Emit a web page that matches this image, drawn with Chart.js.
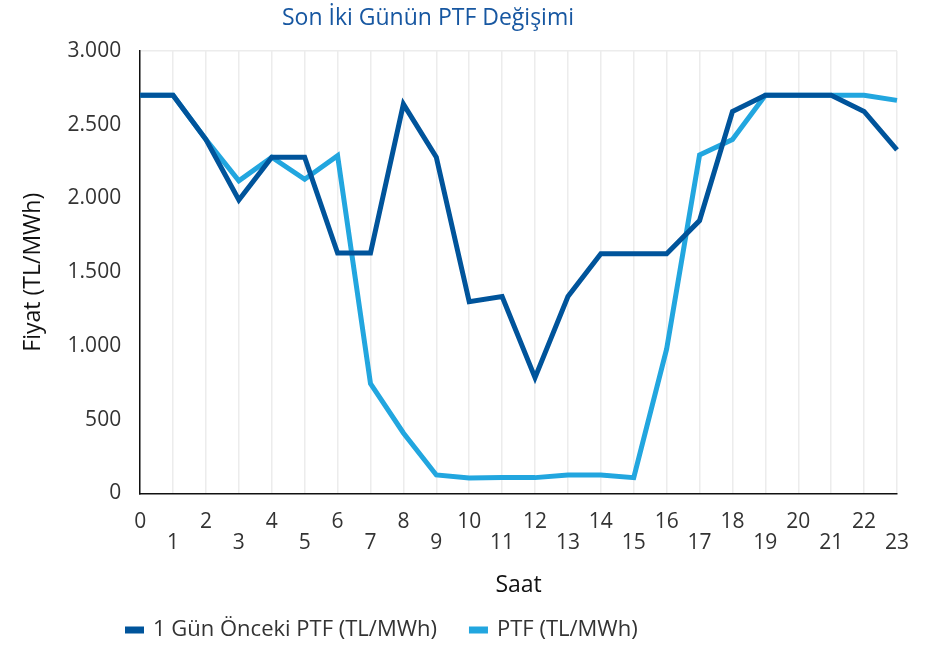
<!DOCTYPE html>
<html>
<head>
    <title>Son İki Günün PTF Değişimi</title>
    <style>
        body {
            margin: 0;
            background-color: white;
        }

        #chart-box {
            width: 938px;
            height: 646px;
        }
    </style>
    <script src="https://cdn.jsdelivr.net/npm/chart.js"></script>
</head>
<body>

    <div id="chart-box">
        <canvas id="ptf-chart"></canvas>
    </div>

    <script>
        // Hours 0..23
        const hours = ['0', '1', '2', '3', '4', '5', '6', '7', '8', '9', '10', '11',
                       '12', '13', '14', '15', '16', '17', '18', '19', '20', '21', '22', '23'];

        // Previous day PTF (TL/MWh)
        const prevDayPtf = [2700, 2700, 2400, 1990, 2280, 2280, 1630, 1630, 2640, 2280, 1300, 1335,
                            785, 1335, 1625, 1625, 1625, 1850, 2590, 2700, 2700, 2700, 2590, 2330];

        // Today PTF (TL/MWh)
        const todayPtf = [2700, 2700, 2400, 2120, 2280, 2130, 2290, 745, 410, 125, 105, 107,
                          107, 125, 125, 107, 980, 2295, 2400, 2700, 2700, 2700, 2700, 2665];

        const seriesNames = ['1 Gün Önceki PTF (TL/MWh)', 'PTF (TL/MWh)'];
        const seriesColors = ['#00549b', '#22a6df'];

        const chartTitle = 'Son İki Günün PTF Değişimi';
        const fontName = "'Open Sans', 'Noto Sans', sans-serif";

        // Odd hours go on a second row, like the original chart
        const hourLabels = hours.map((h, i) => i % 2 === 0 ? h : ['', h]);

        function thousands(v) {
            return String(v).replace(/\B(?=(\d{3})+(?!\d))/g, '.');
        }

        // Title and legend are drawn by hand so they sit where the original has them
        const titleAndLegend = {
            id: 'titleAndLegend',
            afterDraw(chart) {
                const ctx = chart.ctx;
                ctx.save();
                ctx.font = '23px ' + fontName;
                ctx.fillStyle = '#1757a1';
                ctx.textAlign = 'center';
                ctx.textBaseline = 'middle';
                ctx.fillText(chartTitle, 428, 18);

                ctx.font = '22px ' + fontName;
                ctx.textAlign = 'left';
                let x = 125;
                const y = 630;
                chart.data.datasets.forEach(ds => {
                    ctx.fillStyle = ds.borderColor;
                    ctx.fillRect(x, y - 3.5, 19, 7);
                    ctx.fillStyle = '#333333';
                    ctx.fillText(ds.label, x + 28, y);
                    x += 28 + ctx.measureText(ds.label).width + 32;
                });
                ctx.restore();
            }
        };

        const ctx = document.getElementById('ptf-chart').getContext('2d');
        const myChart = new Chart(ctx, {
            type: 'line',
            data: {
                labels: hourLabels,
                datasets: [
                    {
                        label: seriesNames[0],
                        data: prevDayPtf,
                        borderColor: seriesColors[0],
                        backgroundColor: seriesColors[0],
                        borderWidth: 5,
                        pointRadius: 0,
                        tension: 0,
                        fill: false,
                    },
                    {
                        label: seriesNames[1],
                        data: todayPtf,
                        borderColor: seriesColors[1],
                        backgroundColor: seriesColors[1],
                        borderWidth: 5,
                        pointRadius: 0,
                        tension: 0,
                        fill: false,
                    }
                ]
            },
            options: {
                responsive: true,
                maintainAspectRatio: false,
                animation: false,
                layout: {
                    padding: { top: 51, right: 41, bottom: 47, left: 20 }
                },
                plugins: {
                    legend: { display: false },
                    title: { display: false },
                    tooltip: { enabled: false }
                },
                scales: {
                    x: {
                        offset: false,
                        grid: {
                            color: '#ececec',
                            lineWidth: 1.5,
                            drawTicks: false
                        },
                        border: { color: '#111111', width: 1.5 },
                        ticks: {
                            autoSkip: false,
                            maxRotation: 0,
                            padding: 18,
                            color: '#333333',
                            font: { family: fontName, size: 21, lineHeight: 1.0 }
                        },
                        title: {
                            display: true,
                            text: 'Saat',
                            color: '#111111',
                            font: { family: fontName, size: 23 },
                            padding: { top: 0, bottom: 0 }
                        }
                    },
                    y: {
                        min: 0,
                        max: 3000,
                        grid: {
                            color: c => c.tick && c.tick.value === 3000 ? '#ececec' : 'transparent',
                            lineWidth: 1.5,
                            drawTicks: false
                        },
                        border: { color: '#111111', width: 1.5 },
                        ticks: {
                            stepSize: 500,
                            padding: 19,
                            color: '#333333',
                            font: { family: fontName, size: 21 },
                            callback: v => thousands(v)
                        },
                        title: {
                            display: true,
                            text: 'Fiyat (TL/MWh)',
                            color: '#111111',
                            font: { family: fontName, size: 23 },
                            padding: { top: 0, bottom: 1 }
                        }
                    }
                }
            },
            plugins: [titleAndLegend]
        });
    </script>
</body>
</html>
